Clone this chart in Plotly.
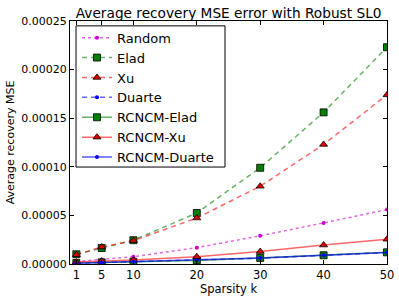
import plotly.graph_objects as go

k = [1, 5, 10, 20, 30, 40, 50]
random_mse = [0.0000025, 0.0000045, 0.0000075, 0.0000168, 0.000029, 0.0000423, 0.000056]
elad_mse = [0.0000100, 0.0000165, 0.0000245, 0.0000525, 0.0000990, 0.000156, 0.000223]
xu_mse = [0.0000095, 0.0000175, 0.0000240, 0.0000473, 0.0000800, 0.000123, 0.000174]
duarte_mse = [0.0000008, 0.0000015, 0.0000021, 0.0000035, 0.0000060, 0.0000088, 0.0000118]
rcncm_elad_mse = [0.0000010, 0.0000017, 0.0000023, 0.0000037, 0.0000063, 0.0000090, 0.0000120]
rcncm_xu_mse = [0.0000020, 0.0000030, 0.0000040, 0.0000075, 0.0000128, 0.0000195, 0.0000255]
rcncm_duarte_mse = [0.0000009, 0.0000016, 0.0000022, 0.0000036, 0.0000061, 0.0000089, 0.0000119]

x_ticks = [1, 5, 10, 20, 30, 40, 50]
y_ticks = [0, 0.00005, 0.0001, 0.00015, 0.0002, 0.00025]
y_tick_text = ["0.00000", "0.00005", "0.00010", "0.00015", "0.00020", "0.00025"]

DASH = "5px,4px"
series = [
    ("Random", random_mse, "rgba(210,0,210,0.6)", "#cc00cc", "dot", "circle", 4, 0.0),
    ("Elad", elad_mse, "rgba(0,128,0,0.6)", "#007f00", DASH, "square", 7, 0.8),
    ("Xu", xu_mse, "rgba(255,0,0,0.6)", "#dd0000", DASH, "triangle-up", 7, 0.8),
    ("Duarte", duarte_mse, "rgba(0,0,255,0.6)", "#0000ff", DASH, "circle", 4, 0.0),
    ("RCNCM-Elad", rcncm_elad_mse, "rgba(0,128,0,0.6)", "#007f00", "solid", "square", 7, 0.8),
    ("RCNCM-Xu", rcncm_xu_mse, "rgba(255,0,0,0.6)", "#dd0000", "solid", "triangle-up", 7, 0.8),
    ("RCNCM-Duarte", rcncm_duarte_mse, "rgba(0,0,255,0.65)", "#0000ff", "solid", "circle", 4, 0.0),
]

fig = go.Figure()
for name, vals, lc, mc, dash, sym, ms, lw in series:
    fig.add_trace(go.Scatter(
        x=k, y=vals, name=name, mode="lines+markers",
        line=dict(color=lc, dash=dash, width=1.5),
        marker=dict(color=mc, symbol=sym, size=ms, line=dict(color="black", width=lw)),
    ))

font_family = "DejaVu Sans"
fig.update_layout(
    width=399, height=298,
    margin=dict(l=70, r=12, t=21, b=34, autoexpand=False),
    paper_bgcolor="white", plot_bgcolor="white",
    font=dict(family=font_family, size=11, color="black"),
    title=dict(text="Average recovery MSE error with Robust SL0", x=0.573, xanchor="center",
               y=0.955, yanchor="middle", font=dict(size=13.7, family=font_family)),
    showlegend=True,
    legend=dict(x=0.022, y=0.993, xanchor="left", yanchor="top",
                borderwidth=0, bgcolor="rgba(0,0,0,0)",
                font=dict(size=13, family=font_family), tracegroupgap=0),
    shapes=[dict(type="rect", xref="paper", yref="paper",
                 x0=0.019, x1=0.489, y0=0.399, y1=0.98,
                 line=dict(color="black", width=1), fillcolor="white", layer="above")],
)
fig.update_xaxes(range=[0, 50], tickvals=x_ticks, ticktext=[str(t) for t in x_ticks],
                 ticks="inside", ticklen=4, tickcolor="black", showline=True, linecolor="black",
                 linewidth=1, mirror="ticks", showgrid=False, zeroline=False, automargin=False,
                 title=dict(text="Sparsity k", standoff=0, font=dict(size=11.5)),
                 tickfont=dict(size=11.5))
fig.update_yaxes(range=[0, 0.00025], tickvals=y_ticks, ticktext=y_tick_text,
                 ticks="inside", ticklen=4, tickcolor="black", showline=True, linecolor="black",
                 linewidth=1, mirror="ticks", showgrid=False, zeroline=False, automargin=False,
                 title=dict(text="Average recovery MSE", standoff=4, font=dict(size=11)),
                 tickfont=dict(size=11))

fig.write_html("out.html", config={"displayModeBar": False},
               post_script="document.body.style.margin='0';")
